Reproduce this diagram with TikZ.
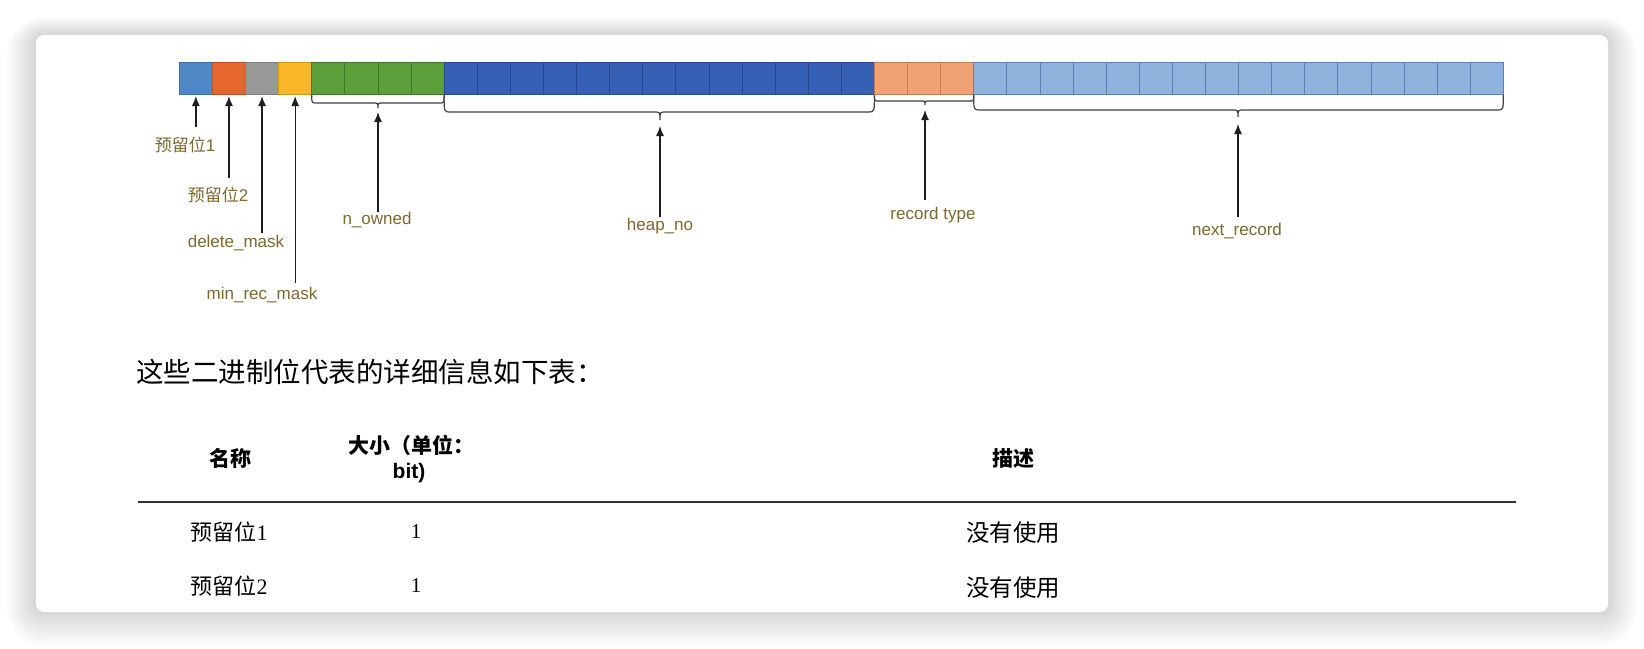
\documentclass[tikz,border=0pt]{standalone}
\usepackage{fontspec}
\setmainfont{Liberation Sans}
\newfontfamily\cjk{Noto Sans CJK SC}
\newfontfamily\serifdigit{Liberation Serif}
\usetikzlibrary{arrows.meta}
\definecolor{cA}{RGB}{79,136,198}\definecolor{cAd}{RGB}{60,110,170}
\definecolor{cB}{RGB}{229,103,46}\definecolor{cBd}{RGB}{190,80,35}
\definecolor{cC}{RGB}{153,153,153}\definecolor{cCd}{RGB}{125,125,125}
\definecolor{cD}{RGB}{249,182,38}\definecolor{cDd}{RGB}{210,150,30}
\definecolor{cE}{RGB}{92,158,58}\definecolor{cEd}{RGB}{60,120,40}
\definecolor{cF}{RGB}{53,96,180}\definecolor{cFd}{RGB}{35,70,145}
\definecolor{cG}{RGB}{240,162,116}\definecolor{cGd}{RGB}{195,125,85}
\definecolor{cH}{RGB}{142,180,222}\definecolor{cHd}{RGB}{90,130,180}
\definecolor{lbl}{RGB}{125,105,45}
\definecolor{ink}{RGB}{30,30,30}
\tikzset{
  cell/.style={rectangle,minimum width=33.1pt,minimum height=32pt,inner sep=0pt,outer sep=0pt,line width=0.8pt},
  arr/.style={draw=ink,line width=1.3pt,-{Latex[length=10pt,width=8pt]}},
  brc/.style={draw=ink!85,line width=1.2pt},
  lab/.style={text=lbl,font=\fontsize{17}{19}\selectfont,inner sep=1pt},
  hd/.style={font=\cjk\bfseries\fontsize{21}{26}\selectfont,inner sep=0pt},
  rowc/.style={font=\cjk\fontsize{22}{24}\selectfont,inner sep=0pt},
  rown/.style={font=\serifdigit\fontsize{21}{24}\selectfont,inner sep=0pt}
}
\begin{document}
\begin{tikzpicture}[x=1pt,y=-1pt]
\useasboundingbox (0,0) rectangle (1644,648);
\fill[white] (0,0) rectangle (1644,648);
% shadow
\foreach \s in {1,...,20}{
  \fill[black,opacity=0.009,rounded corners={8pt+\s*1.5pt}] ({36-\s*1.5},{35-\s*0.9}) rectangle ({1608+\s*1.5},{612+\s*1.7});
}
\fill[white,rounded corners=8pt] (36,35) rectangle (1608,612);
% bit cells
\node[cell,fill=cA,draw=cAd] (c0) at ({179.3+33.1*0.5},78) {};
\node[cell,fill=cB,draw=cBd] (c1) at ({179.3+33.1*1.5},78) {};
\node[cell,fill=cC,draw=cCd] (c2) at ({179.3+33.1*2.5},78) {};
\node[cell,fill=cD,draw=cDd] (c3) at ({179.3+33.1*3.5},78) {};
\foreach \i in {4,...,7}{\node[cell,fill=cE,draw=cEd] (c\i) at ({179.3+33.1*(\i+0.5)},78) {};}
\foreach \i in {8,...,20}{\node[cell,fill=cF,draw=cFd] (c\i) at ({179.3+33.1*(\i+0.5)},78) {};}
\foreach \i in {21,...,23}{\node[cell,fill=cG,draw=cGd] (c\i) at ({179.3+33.1*(\i+0.5)},78) {};}
\foreach \i in {24,...,39}{\node[cell,fill=cH,draw=cHd] (c\i) at ({179.3+33.1*(\i+0.5)},78) {};}
% braces
\draw[brc] (311.7,95) .. controls (311.7,103) .. (316.7,103) -- (373,103) .. controls (378,103) .. (378,108) .. controls (378,103) .. (383,103) -- (439.1,103) .. controls (444.1,103) .. (444.1,95);
\draw[brc] (444.1,95) .. controls (444.1,112) .. (450,112) -- (654,112) .. controls (660,112) .. (660,120) .. controls (660,112) .. (666,112) -- (868.4,112) .. controls (874.4,112) .. (874.4,95);
\draw[brc] (874.4,95) .. controls (874.4,101) .. (879,101) -- (921,101) .. controls (925,101) .. (925,105) .. controls (925,101) .. (929,101) -- (969,101) .. controls (973.7,101) .. (973.7,95);
\draw[brc] (973.7,95) .. controls (973.7,110) .. (979.7,110) -- (1232,110) .. controls (1238,110) .. (1238,117) .. controls (1238,110) .. (1244,110) -- (1497.3,110) .. controls (1503.3,110) .. (1503.3,95);
\coordinate (bN) at (378,112);
\coordinate (bH) at (660,126);
\coordinate (bR) at (925,110);
\coordinate (bX) at (1238,124);
% labels
\node[lab] (l1) at (185,145) {{\cjk 预留位}1};
\node[lab] (l2) at (218,195) {{\cjk 预留位}2};
\node[lab] (l3) at (236,243) {delete\_mask};
\node[lab] (l4) at (262,295) {min\_rec\_mask};
\node[lab] (l5) at (377,220) {n\_owned};
\node[lab] (l6) at (660,226) {heap\_no};
\node[lab] (l7) at (933,215) {record type};
\node[lab] (l8) at (1237,231) {next\_record};
% arrow start points
\coordinate (s1) at (c0.south |- 0,127);
\coordinate (s2) at (c1.south |- 0,178);
\coordinate (s3) at (c2.south |- 0,233);
\coordinate (s4) at (c3.south |- 0,283);
\coordinate (s5) at (378,212);
\coordinate (s6) at (660,217);
\coordinate (s7) at (925,200);
\coordinate (s8) at (1238,217);
\draw[arr,shorten >=2pt] (s1) -- (c0.south);
\draw[arr,shorten >=2pt] (s2) -- (c1.south);
\draw[arr,shorten >=2pt] (s3) -- (c2.south);
\draw[arr,shorten >=2pt] (s4) -- (c3.south);
\draw[arr] (s5) -- (bN);
\draw[arr] (s6) -- (bH);
\draw[arr] (s7) -- (bR);
\draw[arr] (s8) -- (bX);
% text below
\node[anchor=west,inner sep=0pt,font=\cjk\fontsize{27.5}{30}\selectfont] (title) at (136,372) {这些二进制位代表的详细信息如下表：};
\node[hd] (h1) at (230,458) {名称};
\node[hd] (h2a) at (411,445) {大小（单位：};
\node[hd,font=\bfseries\fontsize{21}{26}\selectfont] (h2b) at (409,473) {bit)};
\node[hd] (h3) at (1013,458) {描述};
\draw[line width=2pt,draw=black!80] (138,502) -- (1516,502);
\node[rowc] (r1a) at (229,532) {预留位\serifdigit 1};
\node[rown] (r1b) at (416,532) {1};
\node[rowc,font=\cjk\fontsize{23.5}{26}\selectfont] (r1c) at (1013,533) {没有使用};
\node[rowc] (r2a) at (229,586) {预留位\serifdigit 2};
\node[rown] (r2b) at (416,586) {1};
\node[rowc,font=\cjk\fontsize{23.5}{26}\selectfont] (r2c) at (1013,588) {没有使用};
\end{tikzpicture}
\end{document}
